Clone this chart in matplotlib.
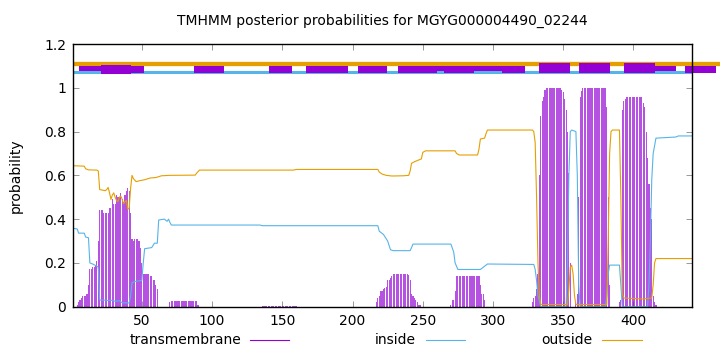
import numpy as np
import matplotlib
matplotlib.use("Agg")
import matplotlib.pyplot as plt
from matplotlib.lines import Line2D

title = "TMHMM posterior probabilities for MGYG000004490_02244"
n_res = 442

# transmembrane posterior, one value per residue (1..442)
tm = ([0, 0, 0, 0.01, 0.02, 0.03, 0.04, 0.05, 0.05, 0.05,
       0.06, 0.10, 0.17, 0.17, 0.18, 0.18, 0.19, 0.21, 0.30, 0.44,
       0.44, 0.44, 0.43, 0.43, 0.43, 0.43, 0.45, 0.45, 0.49, 0.47,
       0.47, 0.51, 0.50, 0.50, 0.52, 0.49, 0.48, 0.51, 0.53, 0.54,
       0.53, 0.43, 0.31, 0.30, 0.31, 0.31, 0.31, 0.30, 0.27, 0.20,
       0.15, 0.15, 0.15, 0.15, 0.15, 0.14, 0.14, 0.12, 0.12, 0.10,
       0.08]
      + [0] * 8
      + [0.02] + [0.025] * 19 + [0.01]
      + [0] * 45
      + [0.004] * 25
      + [0] * 56
      + [0.02, 0.04, 0.05, 0.07, 0.07, 0.08, 0.085, 0.09, 0.12, 0.12,
         0.13, 0.14] + [0.15] * 11
      + [0.147, 0.12, 0.06, 0.05, 0.04, 0.03, 0.02, 0.01, 0.01]
      + [0] * 21
      + [0.01, 0.03, 0.03, 0.07] + [0.14] * 17 + [0.10, 0.06, 0.06, 0.03]
      + [0] * 33
      + [0.02, 0.04, 0.05, 0.08, 0.15, 0.60, 0.87, 0.94, 0.96, 0.99]
      + [1.0] * 11
      + [0.99, 0.98, 0.95, 0.90, 0.80, 0.61, 0.20]
      + [0, 0, 0]
      + [0.02, 0.06, 0.50, 0.96, 0.985] + [1.0] * 17
      + [0.91, 0.50, 0.10]
      + [0] * 6
      + [0.02, 0.03, 0.90, 0.94, 0.95] + [0.96] * 12
      + [0.93, 0.91, 0.80, 0.68, 0.56, 0.45, 0.40, 0.05, 0.02, 0.01]
      + [0] * 26)

inside_x = [1, 4, 5, 9, 10, 12, 13, 15, 18, 19, 20, 24, 26, 28, 31, 34, 36, 41,
            42, 43, 45, 50, 51, 52, 57, 59, 61, 62, 66, 68, 69, 70, 71, 134,
            136, 218, 219, 221, 222, 223, 225, 227, 229, 241, 242, 243, 270,
            272, 273, 275, 291, 293, 296, 329, 330, 331, 332, 334, 352, 353,
            354, 355, 356, 359, 360, 361, 362, 380, 381, 382, 383, 390, 391,
            392, 410, 411, 412, 413, 414, 416, 430, 432, 442]
inside_y = [0.358, 0.355, 0.336, 0.336, 0.318, 0.315, 0.20, 0.195, 0.185, 0.18,
            0.03, 0.03, 0.028, 0.03, 0.025, 0.027, 0.018, 0.017, 0.05, 0.11,
            0.115, 0.12, 0.20, 0.265, 0.27, 0.29, 0.29, 0.396, 0.40, 0.39,
            0.40, 0.385, 0.373, 0.373, 0.37, 0.37, 0.345, 0.335, 0.33, 0.32,
            0.30, 0.26, 0.256, 0.256, 0.27, 0.286, 0.286, 0.25, 0.20, 0.17,
            0.17, 0.18, 0.195, 0.193, 0.17, 0.12, 0.05, 0.0, 0.0, 0.20, 0.60,
            0.80, 0.807, 0.80, 0.60, 0.10, 0.0, 0.0, 0.05, 0.15, 0.19, 0.19,
            0.10, 0.0, 0.0, 0.10, 0.30, 0.58, 0.70, 0.77, 0.775, 0.78, 0.78]

outside_x = [1, 9, 10, 12, 18, 19, 20, 24, 25, 26, 27, 28, 29, 30, 31, 32, 33,
             34, 35, 36, 37, 38, 39, 40, 41, 42, 43, 44, 46, 48, 52, 56, 60,
             64, 70, 88, 89, 91, 158, 160, 218, 219, 221, 224, 228, 236, 240,
             241, 242, 244, 247, 249, 250, 252, 273, 274, 276, 289, 290, 291,
             294, 295, 296, 328, 329, 330, 331, 332, 333, 334, 353, 354, 355,
             356, 357, 358, 359, 381, 382, 383, 384, 385, 390, 391, 392, 393,
             407, 413, 414, 415, 416, 442]
outside_y = [0.644, 0.642, 0.63, 0.625, 0.624, 0.62, 0.535, 0.53, 0.535, 0.545,
             0.52, 0.49, 0.51, 0.52, 0.50, 0.485, 0.48, 0.50, 0.505, 0.49,
             0.47, 0.48, 0.485, 0.445, 0.45, 0.54, 0.60, 0.585, 0.571, 0.575,
             0.58, 0.588, 0.59, 0.598, 0.60, 0.601, 0.61, 0.624, 0.624, 0.627,
             0.627, 0.615, 0.606, 0.60, 0.597, 0.598, 0.60, 0.62, 0.655, 0.662,
             0.67, 0.675, 0.705, 0.712, 0.712, 0.70, 0.693, 0.693, 0.72, 0.766,
             0.77, 0.79, 0.807, 0.807, 0.80, 0.75, 0.50, 0.20, 0.05, 0.01, 0.01,
             0.08, 0.18, 0.19, 0.15, 0.05, 0.01, 0.01, 0.30, 0.70, 0.80, 0.807,
             0.807, 0.50, 0.06, 0.04, 0.035, 0.04, 0.10, 0.20, 0.22, 0.22]

# predicted segments shown in the strip above 1.0 (last one runs past the frame)
seg_start = [5, 20.7, 42.6, 87, 140.5, 167, 203.7, 232, 259.8, 264.8, 286.6,
             306.5, 333, 361.4, 393, 415, 437]
seg_end = [20.7, 42.6, 51.4, 108.6, 157, 196.6, 224.8, 259.8, 264.8, 286.6,
           306.5, 323, 354.5, 383.5, 415, 430, 458.5]
seg_kind = ["thin", "mid", "reg", "reg", "reg", "reg", "reg", "reg", "thin",
            "reg", "thin", "reg", "tall", "tall", "tall", "thin", "reg"]
outside_strip_end = 462

purple = "#9400d3"
blue = "#56b4e9"
orange = "#e69f00"

fig = plt.figure(figsize=(7.2, 3.52), dpi=100)
ax = fig.add_axes([0.1014, 0.1287, 0.8604, 0.7463])

res = np.arange(1, n_res + 1)
ax.bar(res, tm, width=0.8, color=purple, alpha=0.68, linewidth=0, zorder=2)
ax.plot(inside_x, inside_y, color=blue, lw=0.8, zorder=3)
ax.plot(outside_x, outside_y, color=orange, lw=0.8, zorder=3)

# top strip
ax.plot([1, n_res], [1.072, 1.072], color=blue, lw=2.2, solid_capstyle="butt", zorder=3)
ax.plot([1, outside_strip_end], [1.11, 1.11], color=orange, lw=3.1,
        solid_capstyle="butt", zorder=3, clip_on=False)
heights = {"thin": (1.077, 1.099), "reg": (1.066, 1.099),
           "mid": (1.062, 1.104), "tall": (1.066, 1.114)}
for s, e, k in zip(seg_start, seg_end, seg_kind):
    lo, hi = heights[k]
    ax.fill_between([s, e], lo, hi, color=purple, linewidth=0, zorder=4,
                    clip_on=False)

ax.set_xlim(1, n_res)
ax.set_ylim(0, 1.2)
ax.set_xticks(range(50, 401, 50))
ax.set_yticks([0, 0.2, 0.4, 0.6, 0.8, 1.0, 1.2])
ax.set_yticklabels(["0", "0.2", "0.4", "0.6", "0.8", "1", "1.2"])
ax.tick_params(direction="in", length=4, width=0.6, top=True, right=True,
               labelsize=10, pad=5, colors="#888888", labelcolor="black")
for sp in ax.spines.values():
    sp.set_linewidth(1.0)
    sp.set_zorder(5)
ax.set_ylabel("probability", fontsize=10, labelpad=15)
ax.set_title(title, fontsize=10, pad=14)

# legend row under the axis
ly = 1 - 340 / 352
entries = [("transmembrane", 241, 250, 289, purple),
           ("inside", 416, 426, 465, blue),
           ("outside", 592, 602, 642, orange)]
for label, tx, x0, x1, c in entries:
    fig.text(tx / 720, ly, label, ha="right", va="center", fontsize=10)
    fig.add_artist(Line2D([x0 / 720, x1 / 720], [ly, ly], color=c, lw=0.8))

fig.savefig("out.png", dpi=100)
